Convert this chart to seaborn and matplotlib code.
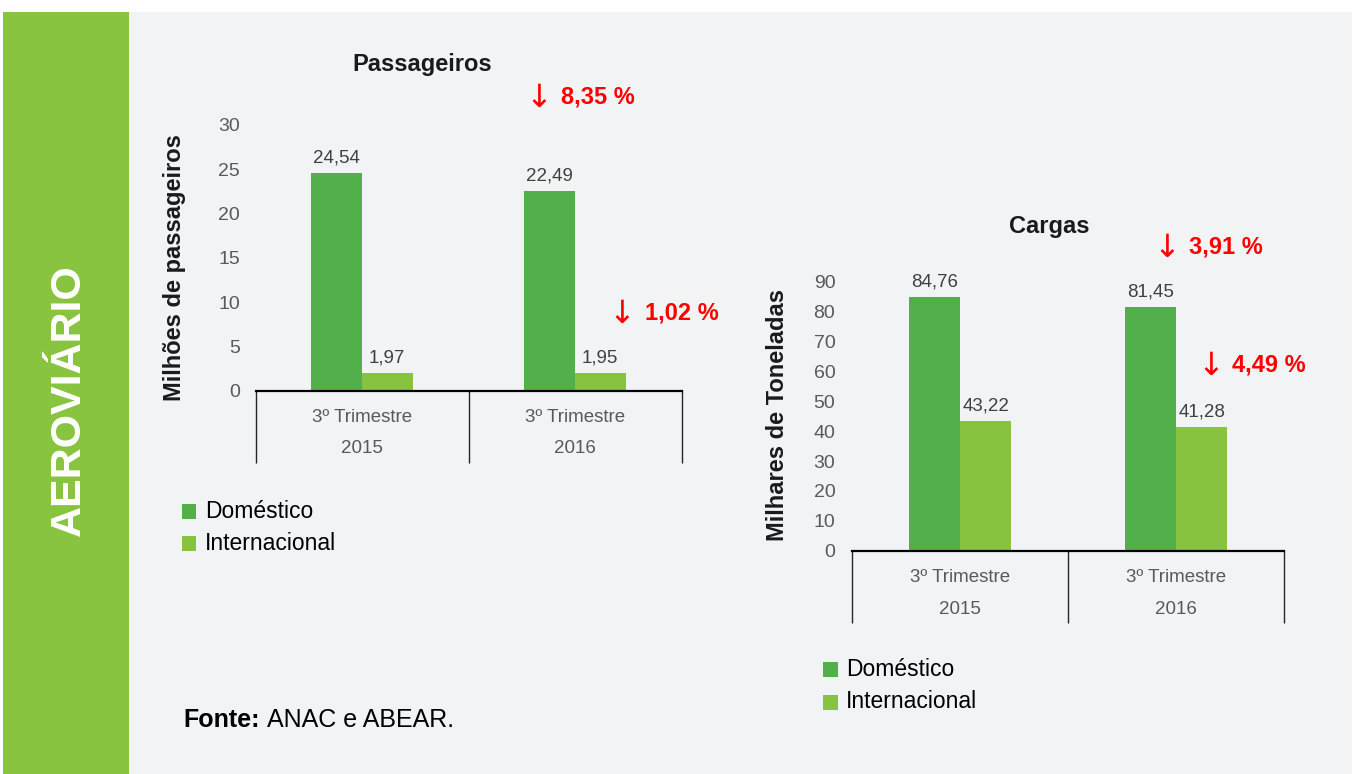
import matplotlib
matplotlib.use("Agg")
import matplotlib.pyplot as plt
from matplotlib.patches import Rectangle
import pandas as pd
import seaborn as sns

# ---- data -------------------------------------------------------------
periodos = ["2015", "2016"]
periodo_rotulo = "3º Trimestre"
tipos = ["Doméstico", "Internacional"]

passageiros_domestico = [24.54, 22.49]
passageiros_internacional = [1.97, 1.95]
cargas_domestico = [84.76, 81.45]
cargas_internacional = [43.22, 41.28]

# percentage drop 2015 -> 2016 (doméstico, internacional)
queda_passageiros = [8.35, 1.02]
queda_cargas = [3.91, 4.49]

ticks_passageiros = [0, 5, 10, 15, 20, 25, 30]
ticks_cargas = [0, 10, 20, 30, 40, 50, 60, 70, 80, 90]

cores = {"Doméstico": "#52b04a", "Internacional": "#88c33f"}
verde_lateral = "#88c440"
fundo = "#f2f3f5"
vermelho = "#ff0000"

# ---- style ------------------------------------------------------------
sns.set_style("white")
plt.rcParams["font.family"] = ["Liberation Sans", "DejaVu Sans"]

W, H = 1355, 774
fig = plt.figure(figsize=(W / 100, H / 100), dpi=100, facecolor="white")


def fx(px):
    return px / W


def fy(py):
    return 1 - py / H


def br(v):
    return f"{v:.2f}".replace(".", ",")


# panel background and side band (kept behind the axes)
fig.patches.append(Rectangle((fx(129), 0), fx(1352) - fx(129), fy(12),
                             transform=fig.transFigure, facecolor=fundo,
                             edgecolor="none", zorder=-2))
fig.patches.append(Rectangle((fx(3), 0), fx(129) - fx(3), fy(12),
                             transform=fig.transFigure, facecolor=verde_lateral,
                             edgecolor="none", zorder=-2))
fig.text(fx(69), fy(400), "AEROVIÁRIO", rotation=90, color="white",
         fontsize=31, fontweight="bold", ha="center", va="center")


def painel(left, right, base, top, box_bottom, dom, intl, ymax, ticks, pad):
    ax = fig.add_axes([fx(left), fy(base), fx(right) - fx(left), fy(top) - fy(base)])
    df = pd.DataFrame({
        "periodo": periodos * 2,
        "tipo": [tipos[0]] * len(periodos) + [tipos[1]] * len(periodos),
        "valor": list(dom) + list(intl),
    })
    sns.barplot(data=df, x="periodo", y="valor", hue="tipo", order=periodos,
                hue_order=tipos, palette=cores, width=0.475, saturation=1,
                linewidth=0, legend=False, errorbar=None, ax=ax)
    ax.set_xlim(-0.5, len(periodos) - 0.5)
    ax.set_ylim(0, ymax)
    ax.set_yticks(ticks)
    ax.set_xticks([])
    ax.set_xlabel("")
    ax.set_ylabel("")
    ax.set_facecolor("none")
    ax.patch.set_alpha(0)
    ax.grid(False)
    for s in ["top", "right", "left"]:
        ax.spines[s].set_visible(False)
    ax.spines["bottom"].set_color("black")
    ax.spines["bottom"].set_linewidth(1.6)
    ax.tick_params(axis="y", length=0, pad=pad, labelsize=14, labelcolor="#595959")

    for cont in ax.containers:
        ax.bar_label(cont, fmt=br, padding=5, fontsize=13.5, color="#404040")

    # category table below the axis
    px_per_unit = (base - top) / ymax
    drop = (box_bottom - base) / px_per_unit
    ax.vlines([i - 0.5 for i in range(len(periodos) + 1)], -drop, 0,
              colors="#262626", lw=1.0, clip_on=False)
    for i, p in enumerate(periodos):
        ax.annotate(periodo_rotulo, (i, 0), xytext=(0, -26.5 * 0.72),
                    textcoords="offset points", ha="center", va="center",
                    fontsize=13.5, color="#595959", annotation_clip=False)
        ax.annotate(p, (i, 0), xytext=(0, -(box_bottom - base - 14) * 0.72),
                    textcoords="offset points", ha="center", va="center",
                    fontsize=13.5, color="#595959", annotation_clip=False)
    return ax


painel(255.5, 681.5, 390.7, 124.9, 462.7,
       passageiros_domestico, passageiros_internacional, 30, ticks_passageiros, 11)
painel(852, 1284, 550.7, 281.6, 623,
       cargas_domestico, cargas_internacional, 90, ticks_cargas, 12)

# titles and axis labels
fig.text(fx(422), fy(65), "Passageiros", ha="center", va="center",
         fontsize=17, fontweight="bold", color="#1a1a1a")
fig.text(fx(1049), fy(227), "Cargas", ha="center", va="center",
         fontsize=17, fontweight="bold", color="#1a1a1a")
fig.text(fx(175), fy(268), "Milhões de passageiros", rotation=90, ha="center",
         va="center", fontsize=17, fontweight="bold", color="#1a1a1a")
fig.text(fx(778), fy(415), "Milhares de Toneladas", rotation=90, ha="center",
         va="center", fontsize=17, fontweight="bold", color="#1a1a1a")


def queda(x_seta, x_txt, y, valor):
    fig.text(fx(x_seta), fy(y + 1), "↓", ha="center", va="center", fontsize=23,
             color=vermelho, family=["DejaVu Sans"])
    fig.text(fx(x_txt), fy(y), f"{br(valor)} %", ha="left", va="center",
             fontsize=17, fontweight="bold", color=vermelho)


queda(539, 561, 97, queda_passageiros[0])
queda(622, 645, 313, queda_passageiros[1])
queda(1167, 1189, 247, queda_cargas[0])
queda(1211, 1232, 365, queda_cargas[1])


def legenda(x_sq, ys, x_txt):
    for tipo, y in zip(tipos, ys):
        fig.patches.append(Rectangle((fx(x_sq), fy(y + 7.5)), 15 / W, 15 / H,
                                     transform=fig.transFigure,
                                     facecolor=cores[tipo], edgecolor="none"))
        fig.text(fx(x_txt), fy(y), tipo, ha="left", va="center",
                 fontsize=16.5, color="black")


legenda(181.5, [511, 543.5], 205)
legenda(823, [669, 702], 846)

fig.text(fx(183), fy(720), "Fonte:", ha="left", va="center", fontsize=18,
         fontweight="bold", color="black")
fig.text(fx(267), fy(720), "ANAC e ABEAR.", ha="left", va="center",
         fontsize=18, color="black")

fig.savefig("out.png", dpi=100, facecolor="white")
